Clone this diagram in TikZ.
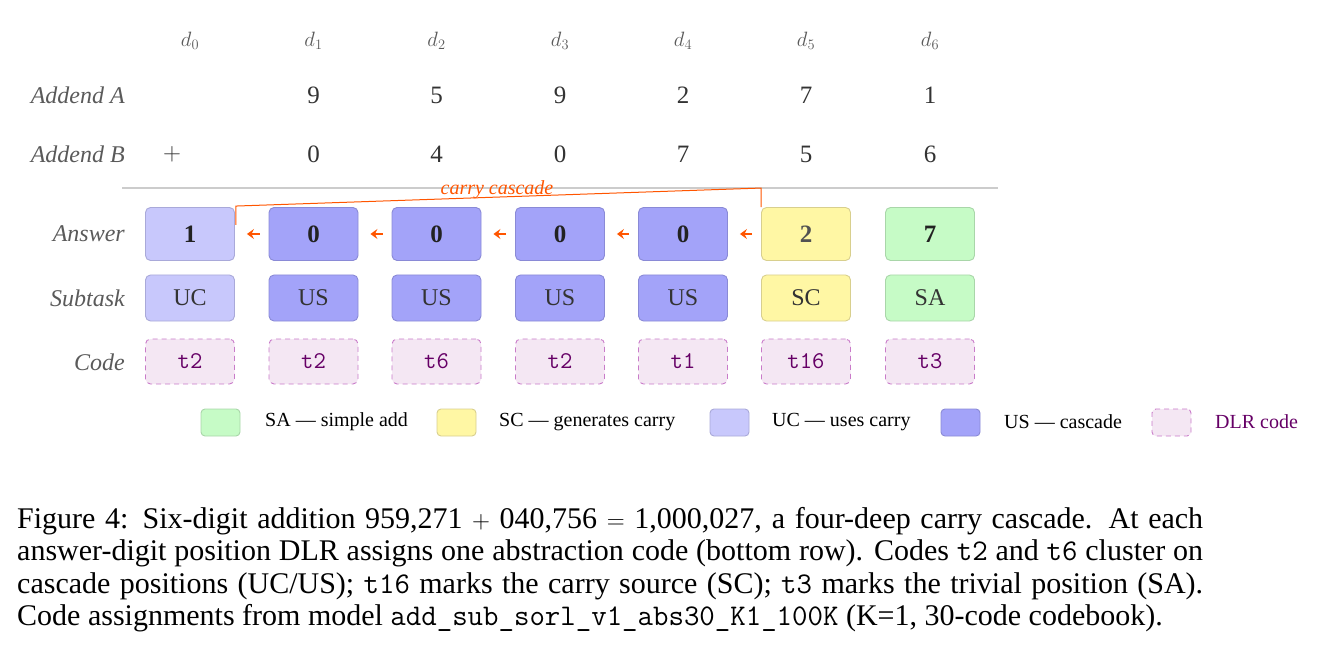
\documentclass[tikz,border=0pt]{standalone}
\usepackage{fontspec}
\setmainfont{Liberation Serif}
\usetikzlibrary{arrows.meta,calc}
\definecolor{labgray}{HTML}{5A5A5A}
\definecolor{numgray}{HTML}{333333}
\definecolor{ansdark}{HTML}{222222}
\definecolor{safill}{HTML}{C6FBC6}\definecolor{sadraw}{HTML}{A9D6A9}
\definecolor{scfill}{HTML}{FFF7A4}\definecolor{scdraw}{HTML}{D8CF8E}
\definecolor{ucfill}{HTML}{C8C8FC}\definecolor{ucdraw}{HTML}{A9A9D9}
\definecolor{usfill}{HTML}{A3A3F9}\definecolor{usdraw}{HTML}{8A8AD6}
\definecolor{cdfill}{HTML}{F4E7F3}\definecolor{cddraw}{HTML}{C97BC9}
\definecolor{cdtext}{HTML}{660066}
\definecolor{carryor}{HTML}{FF5500}
\definecolor{rulegray}{HTML}{CCCCCC}
\tikzset{
  rowlbl/.style={anchor=east,text=labgray,font=\fontsize{24}{28}\selectfont\itshape,inner sep=0pt},
  hdr/.style={text=labgray,font=\fontsize{21}{24}\selectfont,inner sep=0pt},
  num/.style={text=numgray,font=\fontsize{25}{30}\selectfont,inner sep=0pt},
  box/.style={rounded corners=5pt,line width=0.9pt,minimum width=89pt,inner sep=0pt},
  ansbox/.style={box,minimum height=53pt,font=\fontsize{25}{30}\selectfont\bfseries,text=ansdark},
  subbox/.style={box,minimum height=46pt,font=\fontsize{24}{28}\selectfont,text=numgray},
  codebox/.style={box,minimum height=45pt,dashed,dash pattern=on 5pt off 4pt,fill=cdfill,draw=cddraw,font=\fontsize{24}{28}\selectfont\ttfamily,text=cdtext},
  SA/.style={fill=safill,draw=sadraw},
  SC/.style={fill=scfill,draw=scdraw},
  UC/.style={fill=ucfill,draw=ucdraw},
  US/.style={fill=usfill,draw=usdraw},
  legbox/.style={rounded corners=4pt,line width=0.9pt,minimum width=39pt,minimum height=27pt,inner sep=0pt},
  legtxt/.style={anchor=west,inner sep=0pt,font=\fontsize{20}{24}\selectfont},
  carr/.style={draw=carryor,line width=1.6pt,-{Stealth[length=7pt,width=10pt,inset=2.5pt]}},
}
\begin{document}
\begin{tikzpicture}[x=1pt,y=-1pt]
\useasboundingbox (0,0) rectangle (1322,652);
% column headers
\foreach \i/\x in {0/190,1/313.5,2/436.5,3/560,4/683,5/806,6/930}
  \node[hdr] (h\i) at (\x,41) {$d_{\i}$};
% row labels
\node[rowlbl] (lA) at (125,95) {Addend A};
\node[rowlbl] (lB) at (125,154) {Addend B};
\node[rowlbl] (lAns) at (125,234) {Answer};
\node[rowlbl] (lSub) at (125,298) {Subtask};
\node[rowlbl] (lCode) at (125,362) {Code};
% addends
\foreach \i/\x/\a/\b in {1/313.5/9/0,2/436.5/5/4,3/560/9/0,4/683/2/7,5/806/7/5,6/930/1/6}{
  \node[num] (A\i) at (\x,95) {\a};
  \node[num] (B\i) at (\x,154) {\b};
}
\node[num] (plus) at (172,154) {$+$};
\draw[rulegray,line width=1.3pt] (122,188) -- (998,188);
% answer row
\node[ansbox,UC] (a0) at (190,234) {1};
\node[ansbox,US] (a1) at (313.5,234) {0};
\node[ansbox,US] (a2) at (436.5,234) {0};
\node[ansbox,US] (a3) at (560,234) {0};
\node[ansbox,US] (a4) at (683,234) {0};
\node[ansbox,SC,text=numgray!85!white] (a5) at (806,234) {2};
\node[ansbox,SA] (a6) at (930,234) {7};
% subtask row
\node[subbox,UC] (s0) at (190,298) {UC};
\node[subbox,US] (s1) at (313.5,298) {US};
\node[subbox,US] (s2) at (436.5,298) {US};
\node[subbox,US] (s3) at (560,298) {US};
\node[subbox,US] (s4) at (683,298) {US};
\node[subbox,SC] (s5) at (806,298) {SC};
\node[subbox,SA] (s6) at (930,298) {SA};
% code row
\node[codebox] (c0) at (190,361.5) {t2};
\node[codebox] (c1) at (313.5,361.5) {t2};
\node[codebox] (c2) at (436.5,361.5) {t6};
\node[codebox] (c3) at (560,361.5) {t2};
\node[codebox] (c4) at (683,361.5) {t1};
\node[codebox] (c5) at (806,361.5) {t16};
\node[codebox] (c6) at (930,361.5) {t3};
% carry arrows
\foreach \p/\n in {a0/a1,a1/a2,a2/a3,a3/a4,a4/a5}
  \draw[carr] ([xshift=-9pt]\n.west) -- ([xshift=12pt]\p.east);
% carry cascade bracket
\coordinate (cR) at ($(a5.north west)+(0,-19)$);
\draw[carryor,line width=1pt] (a5.north west) -- (cR) -- ($(a0.north east)+(1,-1)$) -- ($(a0.east)+(1,-9)$);
\node[text=carryor,font=\fontsize{20}{24}\selectfont\itshape,inner sep=0pt] (cc) at (497,190) {carry cascade};
% legend
\node[legbox,SA] (kSA) at (220.5,422.5) {};
\node[legtxt] (tSA) at (265,422) {SA --- simple add};
\node[legbox,SC] (kSC) at (456.5,422.5) {};
\node[legtxt] (tSC) at (499,422) {SC --- generates carry};
\node[legbox,UC] (kUC) at (729.5,422.5) {};
\node[legtxt] (tUC) at (772,422) {UC --- uses carry};
\node[legbox,US] (kUS) at (960.5,422.5) {};
\node[legtxt] (tUS) at (1004,422) {US --- cascade};
\node[legbox,dashed,dash pattern=on 5pt off 4pt,fill=cdfill,draw=cddraw] (kDLR) at (1171.5,422.5) {};
\node[legtxt,text=cdtext] (tDLR) at (1215,422) {DLR code};
% caption
\node[anchor=north west,inner sep=0pt,text width=1186pt,align=justify,
      font=\fontsize{30}{32.5}\selectfont] (cap) at (17,507) {%
Figure 4: Six-digit addition 959,271 $+$ 040,756 $=$ 1,000,027, a four-deep carry cascade. At each\linebreak
answer-digit position DLR assigns one abstraction code (bottom row). Codes \texttt{t2} and \texttt{t6} cluster on\linebreak
cascade positions (UC/US); \texttt{t16} marks the carry source (SC); \texttt{t3} marks the trivial position (SA).\linebreak
Code assignments from model \texttt{add\_sub\_sorl\_v1\_abs30\_K1\_100K} (K=1, 30-code codebook).};
\end{tikzpicture}
\end{document}
